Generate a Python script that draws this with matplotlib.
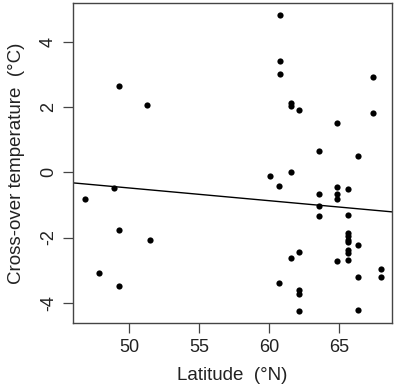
import numpy as np
import matplotlib
matplotlib.use("Agg")
import matplotlib.pyplot as plt

plt.rcParams["font.family"] = ["Liberation Sans", "DejaVu Sans"]

# latitude (deg N) and cross-over temperature (deg C)
latitude = [
    49.29, 51.24, 48.93, 46.81, 49.29, 51.48, 47.86, 49.29,
    60.74, 60.74, 60.74, 61.55, 61.55, 62.12,
    67.41, 67.41, 64.86, 63.53, 66.31,
    60.05, 61.53, 60.71, 64.86, 65.64,
    63.53, 64.86, 64.86, 63.53, 63.53, 65.64,
    65.64, 65.64, 65.64, 65.64, 65.64, 65.64, 65.64,
    66.31, 64.86, 62.12, 61.55, 60.71, 62.12, 62.12, 62.12,
    66.31, 66.31, 67.96, 67.96,
]
crossover = [
    2.65, 2.07, -0.48, -0.83, -1.78, -2.06, -3.08, -3.48,
    4.83, 3.40, 3.01, 2.12, 2.03, 1.91,
    2.92, 1.82, 1.51, 0.65, 0.51,
    -0.10, 0.00, -0.42, -0.44, -0.50,
    -0.67, -0.67, -0.83, -1.04, -1.33, -1.30,
    -1.85, -1.95, -2.06, -2.15, -2.37, -2.48, -2.70,
    -2.23, -2.72, -2.45, -2.63, -3.40, -3.61, -3.73, -4.25,
    -3.21, -4.23, -2.97, -3.20,
]

# regression line shown in the figure
line_intercept = 1.47
line_slope = -0.0390

x_ticks = [50, 55, 60, 65]
y_ticks = [-4, -2, 0, 2, 4]

fig = plt.figure(figsize=(3.97, 3.91), dpi=100)
ax = fig.add_axes([0.184, 0.174, 0.803, 0.818])

ax.scatter(latitude, crossover, s=20, color="black", linewidths=0, zorder=3)

xlim = (45.98, 68.76)
xs = np.array(xlim)
ax.plot(xs, line_intercept + line_slope * xs, color="black", lw=1.0)

ax.set_xlim(xlim)
ax.set_ylim(-4.62, 5.19)
ax.set_xticks(x_ticks)
ax.set_yticks(y_ticks)
ax.set_yticklabels([str(t) for t in y_ticks], rotation=90, va="center")

for s in ax.spines.values():
    s.set_color("#444444")
    s.set_linewidth(1.0)

ax.tick_params(axis="both", direction="out", length=7.5, width=0.9, color="#444444",
               labelsize=13, pad=4, labelcolor="#222222")
ax.set_xlabel("Latitude  (\u00b0N)", fontsize=13.5, labelpad=8, color="#222222")
ax.set_ylabel("Cross-over temperature  (\u00b0C)", fontsize=13.5, labelpad=11, color="#222222")

fig.savefig("out.png", dpi=100)
